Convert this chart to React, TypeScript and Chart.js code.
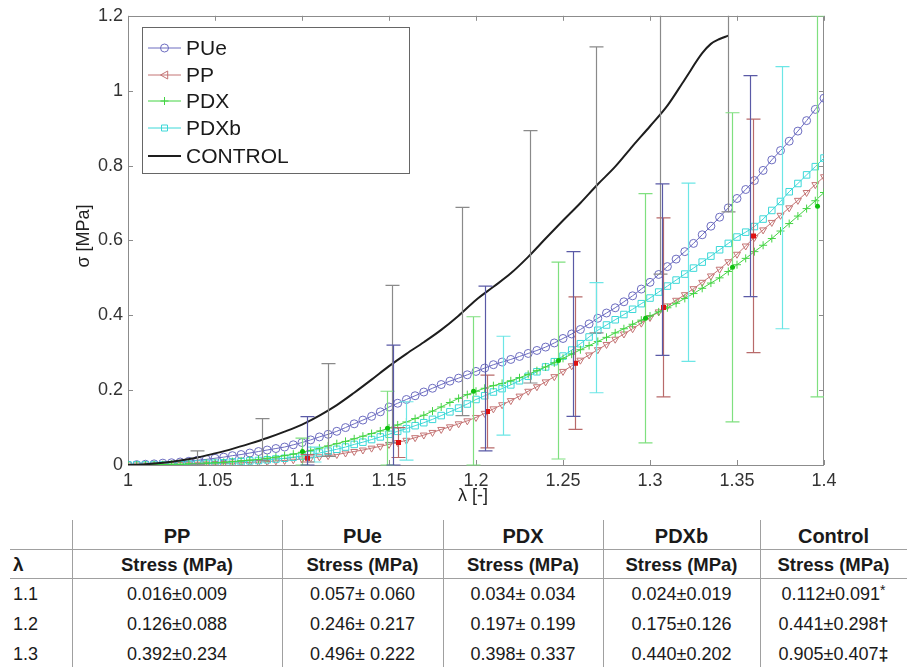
import React, { useEffect, useRef } from 'react';
import { Chart, registerables } from 'chart.js';
Chart.register(...registerables);

// ---------- data ----------
const LAMBDA = [1, 1.005, 1.01, 1.015, 1.02, 1.025, 1.03, 1.035, 1.04, 1.045, 1.05, 1.055, 1.06, 1.065, 1.07, 1.075, 1.08, 1.085, 1.09, 1.095, 1.1, 1.105, 1.11, 1.115, 1.12, 1.125, 1.13, 1.135, 1.14, 1.145, 1.15, 1.155, 1.16, 1.165, 1.17, 1.175, 1.18, 1.185, 1.19, 1.195, 1.2, 1.205, 1.21, 1.215, 1.22, 1.225, 1.23, 1.235, 1.24, 1.245, 1.25, 1.255, 1.26, 1.265, 1.27, 1.275, 1.28, 1.285, 1.29, 1.295, 1.3, 1.305, 1.31, 1.315, 1.32, 1.325, 1.33, 1.335, 1.34, 1.345, 1.35, 1.355, 1.36, 1.365, 1.37, 1.375, 1.38, 1.385, 1.39, 1.395, 1.4];

const PUE = [0, 0.001, 0.002, 0.003, 0.005, 0.006, 0.008, 0.010, 0.013, 0.015, 0.018, 0.021, 0.025, 0.028, 0.032, 0.036, 0.040, 0.044, 0.048, 0.054, 0.060, 0.067, 0.075, 0.082, 0.090, 0.100, 0.110, 0.120, 0.130, 0.142, 0.155, 0.165, 0.175, 0.185, 0.195, 0.205, 0.215, 0.224, 0.232, 0.241, 0.250, 0.259, 0.268, 0.275, 0.282, 0.290, 0.298, 0.306, 0.315, 0.326, 0.338, 0.350, 0.362, 0.377, 0.392, 0.406, 0.420, 0.436, 0.452, 0.470, 0.488, 0.509, 0.530, 0.550, 0.570, 0.592, 0.615, 0.638, 0.662, 0.687, 0.712, 0.736, 0.760, 0.787, 0.815, 0.840, 0.865, 0.892, 0.920, 0.950, 0.980];

const PP = [0, 0, 0, 0, 0, 0.001, 0.001, 0.002, 0.002, 0.003, 0.003, 0.004, 0.005, 0.006, 0.007, 0.008, 0.009, 0.011, 0.012, 0.014, 0.016, 0.019, 0.022, 0.025, 0.028, 0.032, 0.036, 0.040, 0.045, 0.050, 0.055, 0.060, 0.066, 0.073, 0.080, 0.087, 0.095, 0.102, 0.110, 0.118, 0.127, 0.138, 0.150, 0.161, 0.172, 0.184, 0.197, 0.209, 0.222, 0.236, 0.250, 0.265, 0.280, 0.294, 0.308, 0.322, 0.336, 0.350, 0.364, 0.379, 0.394, 0.409, 0.425, 0.440, 0.455, 0.471, 0.488, 0.505, 0.523, 0.543, 0.563, 0.585, 0.608, 0.628, 0.648, 0.667, 0.687, 0.707, 0.728, 0.749, 0.770];

const PDX = [0, 0, 0, 0.001, 0.001, 0.002, 0.002, 0.003, 0.004, 0.005, 0.006, 0.007, 0.009, 0.011, 0.013, 0.015, 0.018, 0.021, 0.025, 0.029, 0.034, 0.039, 0.045, 0.051, 0.057, 0.063, 0.070, 0.077, 0.084, 0.091, 0.099, 0.107, 0.115, 0.124, 0.133, 0.144, 0.155, 0.167, 0.178, 0.188, 0.197, 0.205, 0.212, 0.218, 0.225, 0.233, 0.242, 0.252, 0.262, 0.273, 0.285, 0.296, 0.308, 0.319, 0.330, 0.341, 0.353, 0.364, 0.376, 0.387, 0.398, 0.409, 0.420, 0.432, 0.445, 0.458, 0.472, 0.486, 0.500, 0.517, 0.535, 0.552, 0.570, 0.587, 0.605, 0.625, 0.645, 0.665, 0.685, 0.706, 0.728];

const PDXB = [0, 0, 0, 0, 0, 0.001, 0.001, 0.002, 0.003, 0.004, 0.005, 0.006, 0.008, 0.009, 0.011, 0.012, 0.014, 0.016, 0.018, 0.021, 0.024, 0.028, 0.032, 0.037, 0.042, 0.048, 0.055, 0.061, 0.068, 0.075, 0.082, 0.090, 0.097, 0.105, 0.113, 0.122, 0.132, 0.142, 0.152, 0.163, 0.175, 0.185, 0.195, 0.204, 0.214, 0.225, 0.237, 0.249, 0.262, 0.276, 0.291, 0.307, 0.324, 0.342, 0.360, 0.374, 0.388, 0.402, 0.416, 0.431, 0.446, 0.462, 0.478, 0.494, 0.510, 0.526, 0.542, 0.558, 0.575, 0.592, 0.609, 0.622, 0.637, 0.657, 0.680, 0.704, 0.730, 0.752, 0.775, 0.797, 0.820];

const CTRL_LAMBDA = [1, 1.01, 1.02, 1.03, 1.04, 1.05, 1.06, 1.07, 1.08, 1.09, 1.1, 1.11, 1.12, 1.13, 1.14, 1.15, 1.16, 1.17, 1.18, 1.19, 1.2, 1.21, 1.22, 1.23, 1.24, 1.25, 1.26, 1.27, 1.28, 1.29, 1.3, 1.31, 1.32, 1.33, 1.335, 1.34, 1.345];
const CTRL = [0, 0.002, 0.006, 0.012, 0.020, 0.031, 0.043, 0.057, 0.072, 0.089, 0.108, 0.132, 0.160, 0.193, 0.228, 0.264, 0.297, 0.328, 0.361, 0.399, 0.441, 0.476, 0.512, 0.556, 0.605, 0.653, 0.700, 0.750, 0.797, 0.852, 0.905, 0.960, 1.030, 1.100, 1.125, 1.138, 1.147];

// error bars: position, mean, standard deviation
const CTRL_ERR_X = [1.0395, 1.077, 1.115, 1.152, 1.192, 1.231, 1.269, 1.306, 1.345];
const CTRL_ERR_MEAN = [0.020, 0.068, 0.147, 0.270, 0.410, 0.556, 0.735, 0.930, 1.146];
const CTRL_ERR_SD = [0.018, 0.056, 0.124, 0.210, 0.278, 0.337, 0.382, 0.420, 0.470];

const PUE_ERR_X = [1.103, 1.1525, 1.205, 1.256, 1.3067, 1.3575];
const PUE_ERR_MEAN = [0.064, 0.160, 0.258, 0.350, 0.522, 0.745];
const PUE_ERR_SD = [0.065, 0.160, 0.220, 0.220, 0.229, 0.295];

const PP_ERR_X = [1.103, 1.155, 1.2065, 1.257, 1.3077, 1.3594];
const PP_ERR_MEAN = [0.018, 0.060, 0.143, 0.272, 0.421, 0.612];
const PP_ERR_SD = [0.010, 0.040, 0.097, 0.177, 0.239, 0.312];

const PDX_ERR_X = [1.1, 1.149, 1.198, 1.247, 1.297, 1.347, 1.396];
const PDX_ERR_MEAN = [0.036, 0.098, 0.197, 0.279, 0.392, 0.528, 0.691];
const PDX_ERR_SD = [0.036, 0.099, 0.199, 0.263, 0.333, 0.413, 0.509];

const PDXB_ERR_X = [1.107, 1.16, 1.2157, 1.269, 1.322, 1.376];
const PDXB_ERR_MEAN = [0.028, 0.091, 0.212, 0.340, 0.515, 0.714];
const PDXB_ERR_SD = [0.020, 0.078, 0.132, 0.147, 0.238, 0.350];

const X_TICKS = [1, 1.05, 1.1, 1.15, 1.2, 1.25, 1.3, 1.35, 1.4];
const X_TICK_LABELS = ['1', '1.05', '1.1', '1.15', '1.2', '1.25', '1.3', '1.35', '1.4'];
const Y_TICKS = [0, 0.2, 0.4, 0.6, 0.8, 1, 1.2];
const Y_TICK_LABELS = ['0', '0.2', '0.4', '0.6', '0.8', '1', '1.2'];

const LEGEND_LABELS = ['PUe', 'PP', 'PDX', 'PDXb', 'CONTROL'];

const TABLE_COLUMNS = ['PP', 'PUe', 'PDX', 'PDXb', 'Control'];
const TABLE_LAMBDAS = ['1.1', '1.2', '1.3'];
const TABLE_PP = ['0.016±0.009', '0.126±0.088', '0.392±0.234'];
const TABLE_PUE = ['0.057± 0.060', '0.246± 0.217', '0.496± 0.222'];
const TABLE_PDX = ['0.034± 0.034', '0.197± 0.199', '0.398± 0.337'];
const TABLE_PDXB = ['0.024±0.019', '0.175±0.126', '0.440±0.202'];
const TABLE_CONTROL = ['0.112±0.091', '0.441±0.298', '0.905±0.407'];
const TABLE_CONTROL_MARKS = ['*', '†', '‡'];

// ---------- styles ----------
const FONT = '"Liberation Sans", Arial, sans-serif';
const C_PUE = '#6c6cc0';
const C_PP = '#c47474';
const C_PDX = '#44d444';
const C_PDXB = '#3cd8d8';
const C_CTRL = '#1e1e1e';

type ErrSet = { x: number[]; m: number[]; s: number[]; color: string; dot?: 'square' | 'circle'; dotColor?: string };
const ERR_SETS: ErrSet[] = [
  { x: CTRL_ERR_X, m: CTRL_ERR_MEAN, s: CTRL_ERR_SD, color: '#8a8a8a' },
  { x: PDX_ERR_X, m: PDX_ERR_MEAN, s: PDX_ERR_SD, color: '#7fe07f', dot: 'circle', dotColor: '#10c010' },
  { x: PDXB_ERR_X, m: PDXB_ERR_MEAN, s: PDXB_ERR_SD, color: '#6ce6e6' },
  { x: PP_ERR_X, m: PP_ERR_MEAN, s: PP_ERR_SD, color: '#b86a6a', dot: 'square', dotColor: '#e01010' },
  { x: PUE_ERR_X, m: PUE_ERR_MEAN, s: PUE_ERR_SD, color: '#5a5aa6' },
];

function marker(ctx: CanvasRenderingContext2D, style: string, x: number, y: number, r: number) {
  ctx.beginPath();
  if (style === 'circle') ctx.arc(x, y, r, 0, Math.PI * 2);
  else if (style === 'triLeft') {
    ctx.moveTo(x - r, y);
    ctx.lineTo(x + r * 0.8, y - r);
    ctx.lineTo(x + r * 0.8, y + r);
    ctx.closePath();
  } else if (style === 'cross') {
    ctx.moveTo(x - r, y);
    ctx.lineTo(x + r, y);
    ctx.moveTo(x, y - r);
    ctx.lineTo(x, y + r);
  } else if (style === 'rect') ctx.rect(x - r * 0.75, y - r * 0.75, r * 1.5, r * 1.5);
  ctx.stroke();
}

const framePlugin = {
  id: 'frame',
  beforeDatasetsDraw(chart: any) {
    const { ctx, chartArea: a, scales } = chart;
    ctx.save();
    ctx.strokeStyle = '#8c8c8c';
    ctx.lineWidth = 1;
    ctx.strokeRect(Math.round(a.left) + 0.5, Math.round(a.top) + 0.5, Math.round(a.right - a.left) - 1, Math.round(a.bottom - a.top));
    ctx.beginPath();
    X_TICKS.forEach((v) => {
      const px = Math.round(scales.x.getPixelForValue(v)) + 0.5;
      ctx.moveTo(px, a.bottom);
      ctx.lineTo(px, a.bottom - 5);
      ctx.moveTo(px, a.top);
      ctx.lineTo(px, a.top + 5);
    });
    Y_TICKS.forEach((v) => {
      const py = Math.round(scales.y.getPixelForValue(v)) + 0.5;
      ctx.moveTo(a.left, py);
      ctx.lineTo(a.left + 5, py);
      ctx.moveTo(a.right, py);
      ctx.lineTo(a.right - 5, py);
    });
    ctx.stroke();
    ctx.restore();
  },
};

const errorPlugin = {
  id: 'errbars',
  afterDatasetsDraw(chart: any) {
    const { ctx, chartArea: a, scales } = chart;
    ctx.save();
    ctx.beginPath();
    ctx.rect(a.left, a.top, a.right - a.left, a.bottom - a.top + 1);
    ctx.clip();
    ERR_SETS.forEach((set) => {
      ctx.strokeStyle = set.color;
      ctx.lineWidth = 1.2;
      set.x.forEach((xv, i) => {
        const px = Math.round(scales.x.getPixelForValue(xv)) + 0.5;
        const top = scales.y.getPixelForValue(set.m[i] + set.s[i]);
        const bot = scales.y.getPixelForValue(Math.max(0, set.m[i] - set.s[i]));
        ctx.beginPath();
        ctx.moveTo(px, top);
        ctx.lineTo(px, bot);
        ctx.moveTo(px - 7, top);
        ctx.lineTo(px + 7, top);
        ctx.moveTo(px - 7, bot);
        ctx.lineTo(px + 7, bot);
        ctx.stroke();
        if (set.dot) {
          const py = scales.y.getPixelForValue(set.m[i]);
          ctx.fillStyle = set.dotColor;
          ctx.beginPath();
          if (set.dot === 'square') ctx.rect(px - 2.5, py - 2.5, 5, 5);
          else ctx.arc(px, py, 2.5, 0, Math.PI * 2);
          ctx.fill();
        }
      });
    });
    ctx.restore();
  },
};

const legendPlugin = {
  id: 'boxlegend',
  afterDraw(chart: any) {
    const { ctx } = chart;
    ctx.save();
    // axis titles
    ctx.fillStyle = '#222';
    ctx.font = `18px ${FONT}`;
    ctx.textAlign = 'center';
    ctx.textBaseline = 'middle';
    ctx.fillText('λ [-]', 473, 496);
    ctx.save();
    ctx.translate(84, 236);
    ctx.rotate(-Math.PI / 2);
    ctx.fillText('σ [MPa]', 0, 0);
    ctx.restore();

    // legend box
    const bx = 142, by = 27, bw = 267, bh = 146;
    ctx.fillStyle = '#ffffff';
    ctx.fillRect(bx, by, bw, bh);
    ctx.strokeStyle = '#666';
    ctx.lineWidth = 1;
    ctx.strokeRect(bx + 0.5, by + 0.5, bw, bh);
    const styles = ['circle', 'triLeft', 'cross', 'rect', 'none'];
    const colors = [C_PUE, C_PP, C_PDX, C_PDXB, C_CTRL];
    const ys = [48, 75, 101, 128, 156];
    LEGEND_LABELS.forEach((lab, i) => {
      const y = ys[i];
      ctx.strokeStyle = colors[i];
      ctx.lineWidth = i === 4 ? 2 : 1;
      ctx.beginPath();
      ctx.moveTo(148, y);
      ctx.lineTo(181, y);
      ctx.stroke();
      ctx.lineWidth = 1;
      if (styles[i] !== 'none') marker(ctx, styles[i], 164.5, y, 4);
      ctx.fillStyle = '#1a1a1a';
      ctx.font = `21px ${FONT}`;
      ctx.textAlign = 'left';
      ctx.textBaseline = 'middle';
      ctx.fillText(lab, 186, y + 1);
    });
    ctx.restore();
  },
};

function ChartBox() {
  const ref = useRef<HTMLCanvasElement | null>(null);
  useEffect(() => {
    if (!ref.current) return;
    const pts = (xs: number[], ys: number[]) => xs.map((x, i) => ({ x, y: ys[i] }));
    const tickFont = { family: FONT, size: 18 };
    const chart = new Chart(ref.current, {
      type: 'line',
      data: {
        datasets: [
          { label: 'CONTROL', data: pts(CTRL_LAMBDA, CTRL), borderColor: C_CTRL, borderWidth: 2, pointRadius: 0, tension: 0.3, cubicInterpolationMode: 'monotone' },
          { label: 'PDX', data: pts(LAMBDA, PDX), borderColor: C_PDX, borderWidth: 1, pointStyle: 'cross', pointRadius: 4, pointBorderColor: C_PDX, pointBorderWidth: 1, tension: 0 },
          { label: 'PDXb', data: pts(LAMBDA, PDXB), borderColor: C_PDXB, borderWidth: 1, pointStyle: 'rect', pointRadius: 4.6, pointBorderColor: C_PDXB, pointBackgroundColor: 'rgba(0,0,0,0)', pointBorderWidth: 1, tension: 0 },
          { label: 'PP', data: pts(LAMBDA, PP), borderColor: C_PP, borderWidth: 1, pointStyle: 'triangle', pointRotation: 180, pointRadius: 4, pointBorderColor: C_PP, pointBackgroundColor: 'rgba(0,0,0,0)', pointBorderWidth: 1, tension: 0 },
          { label: 'PUe', data: pts(LAMBDA, PUE), borderColor: C_PUE, borderWidth: 1, pointStyle: 'circle', pointRadius: 4, pointBorderColor: C_PUE, pointBackgroundColor: 'rgba(0,0,0,0)', pointBorderWidth: 1, tension: 0 },
        ],
      },
      options: {
        animation: false,
        responsive: false,
        layout: { padding: { top: 15, right: 83, left: 0, bottom: 0 } },
        plugins: { legend: { display: false }, tooltip: { enabled: false } },
        scales: {
          x: {
            type: 'linear',
            min: 1,
            max: 1.4,
            afterBuildTicks: (s: any) => { s.ticks = X_TICKS.map((v) => ({ value: v })); },
            afterFit: (s: any) => { s.height = 50; },
            grid: { display: false, drawTicks: false },
            border: { display: false },
            ticks: { callback: (_v: any, i: number) => X_TICK_LABELS[i], font: tickFont, color: '#333', padding: 5, maxRotation: 0, autoSkip: false },
          },
          y: {
            type: 'linear',
            min: 0,
            max: 1.2,
            afterBuildTicks: (s: any) => { s.ticks = Y_TICKS.map((v) => ({ value: v })); },
            afterFit: (s: any) => { s.width = 128; },
            grid: { display: false, drawTicks: false },
            border: { display: false },
            ticks: { callback: (_v: any, i: number) => Y_TICK_LABELS[i], font: tickFont, color: '#333', padding: 5, autoSkip: false },
          },
        },
      } as any,
      plugins: [framePlugin, errorPlugin, legendPlugin],
    });
    return () => chart.destroy();
  }, []);
  return <canvas ref={ref} width={907} height={515} style={{ position: 'absolute', left: 0, top: 0, width: 907, height: 515 }} />;
}

const COL_EDGES = [72, 282, 443, 603, 760, 907];
const LINE = '#a0a0a0';

function Table() {
  const cols = [TABLE_PP, TABLE_PUE, TABLE_PDX, TABLE_PDXB, TABLE_CONTROL];
  const cell = (left: number, width: number, top: number, content: React.ReactNode, bold: boolean, size: number, align: 'center' | 'left' = 'center') => (
    <div style={{ position: 'absolute', left, width, top, height: 30, lineHeight: '30px', textAlign: align, fontWeight: bold ? 'bold' : 'normal', fontSize: size, fontFamily: FONT, color: '#1a1a1a', whiteSpace: 'nowrap' }}>{content}</div>
  );
  const out: React.ReactNode[] = [];
  COL_EDGES.slice(0, 5).forEach((x, i) => {
    out.push(<div key={'v' + i} style={{ position: 'absolute', left: x, top: 520, width: 1, height: 147, background: LINE }} />);
  });
  out.push(<div key="h1" style={{ position: 'absolute', left: 10, top: 549, width: 897, height: 1, background: LINE }} />);
  out.push(<div key="h2" style={{ position: 'absolute', left: 10, top: 578, width: 897, height: 1, background: LINE }} />);
  TABLE_COLUMNS.forEach((name, c) => {
    const l = COL_EDGES[c];
    const w = COL_EDGES[c + 1] - l;
    out.push(<React.Fragment key={'c' + c}>{cell(l, w, 521, name, true, 20)}</React.Fragment>);
    out.push(<React.Fragment key={'s' + c}>{cell(l, w, 550, 'Stress (MPa)', true, 18.5)}</React.Fragment>);
    cols[c].forEach((val, r) => {
      const content = c === 4 ? (
        <span>{val}<span style={{ fontWeight: r === 0 ? 'normal' : 'bold', fontSize: r === 0 ? 14 : 18, verticalAlign: r === 0 ? 'top' : 'baseline', lineHeight: r === 0 ? '22px' : '30px' }}>{TABLE_CONTROL_MARKS[r]}</span></span>
      ) : val;
      out.push(<React.Fragment key={'d' + c + r}>{cell(l, w, 579 + r * 30, content, false, 18)}</React.Fragment>);
    });
  });
  out.push(<React.Fragment key="lam">{cell(13, 50, 550, 'λ', true, 19, 'left')}</React.Fragment>);
  TABLE_LAMBDAS.forEach((lv, r) => {
    out.push(<React.Fragment key={'l' + r}>{cell(13, 55, 579 + r * 30, lv, false, 18, 'left')}</React.Fragment>);
  });
  return <>{out}</>;
}

export default function App() {
  return (
    <div style={{ position: 'absolute', left: 0, top: 0, width: 907, height: 667, background: '#fff', overflow: 'hidden' }}>
      <ChartBox />
      <Table />
    </div>
  );
}
